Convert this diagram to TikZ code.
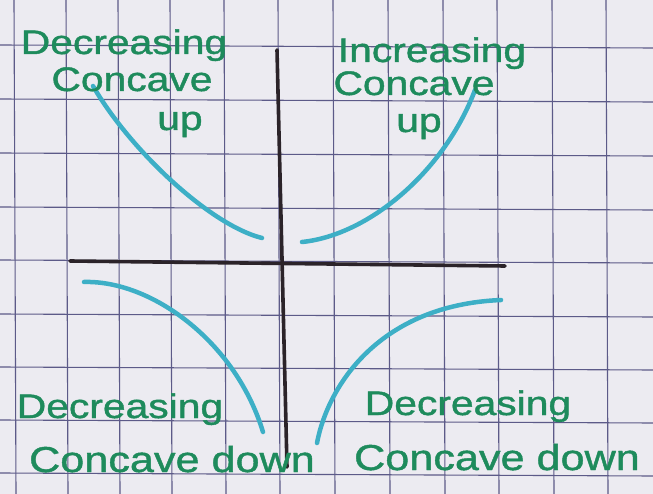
\documentclass[tikz,border=0pt]{standalone}
\usepackage{fontspec}
\setmainfont[FakeStretch=1.2,FakeBold=1.2]{Liberation Sans}
\definecolor{paper}{HTML}{ECEBF1}
\definecolor{gridc}{HTML}{5C5A88}
\definecolor{axisc}{HTML}{2B2329}
\definecolor{curvec}{HTML}{3DAFC6}
\definecolor{inkc}{HTML}{1E8B5C}
\tikzset{
  gridline/.style={gridc, line width=1.1pt},
  axisline/.style={axisc, line width=3.6pt, line cap=round},
  curveline/.style={curvec, line width=4.5pt, line cap=round},
  label/.style={inkc, anchor=base, inner sep=0pt, font=\fontsize{34}{40}\selectfont},
  biglabel/.style={label, font=\fontsize{36}{42}\selectfont},
}
\begin{document}
\begin{tikzpicture}[x=1pt, y=-1pt]
\useasboundingbox (0,0) rectangle (653,494);
\fill[paper] (0,0) rectangle (653,494);
\begin{scope}
\clip (0,0) rectangle (653,494);
% grid
\foreach \gx in {14,66,118,170,224,278,333,388,443,497,552,606} {
  \draw[gridline] (\gx,0) -- (\gx+2,494);
}
\foreach \gy in {-8,45,99,153,207,260,314,367,420,473} {
  \draw[gridline] (0,\gy) -- (653,\gy+3);
}
% axes
\coordinate (xl) at (70,261);
\coordinate (xr) at (505,266);
\coordinate (yt) at (277,50);
\coordinate (yb) at (287,467);
\draw[axisline] (xl) -- (xr);
\draw[axisline] (yt) -- (yb);
% curves
\coordinate (a1) at (93,86);   \coordinate (a2) at (262,238);
\coordinate (b1) at (302,242); \coordinate (b2) at (475,90);
\coordinate (c1) at (84,282);  \coordinate (c2) at (263,432);
\coordinate (d1) at (317,443); \coordinate (d2) at (501,300);
\draw[curveline] (a1) .. controls (130,150) and (210,225) .. (a2);
\draw[curveline] (b1) .. controls (370,235) and (445,170) .. (b2);
\draw[curveline] (c1) .. controls (150,280) and (235,340) .. (c2);
\draw[curveline] (d1) .. controls (328,385) and (380,305) .. (d2);
\end{scope}
% labels
\node[label] (tl1) at (124,54) {Decreasing};
\node[label] (tl2) at (132,91) {Concave};
\node[label] (tl3) at (180,130) {up};
\node[label] (tr1) at (432,62) {Increasing};
\node[label] (tr2) at (414,95) {Concave};
\node[label] (tr3) at (419,132) {up};
\node[label] (bl1) at (120,418) {Decreasing};
\node[biglabel] (bl2) at (172,472) {Concave down};
\node[label] (br1) at (468,415) {Decreasing};
\node[biglabel] (br2) at (497,470) {Concave down};
\end{tikzpicture}
\end{document}
